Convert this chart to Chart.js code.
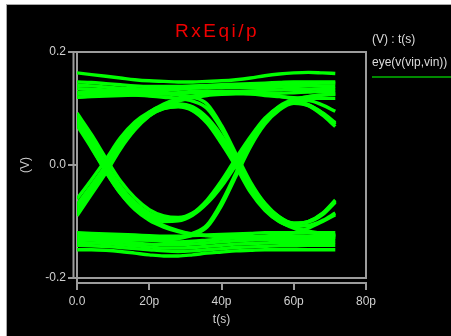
<!DOCTYPE html>
<html><head><meta charset="utf-8">
<script src="https://cdn.jsdelivr.net/npm/chart.js@4.4.1/dist/chart.umd.min.js"></script>
<style>
html,body{margin:0;padding:0;background:#fff;width:451px;height:336px;overflow:hidden;font-family:"Liberation Sans",Arial,sans-serif;}
#box{position:absolute;left:6px;top:4px;width:445px;height:332px;background:#000;border-top:1px solid #a8a8a8;border-left:1px solid #a8a8a8;box-sizing:border-box;}
#cv{position:absolute;left:0;top:0;}
#title{position:absolute;left:0;top:21px;width:434px;text-align:center;font-size:19px;line-height:19px;letter-spacing:2.5px;color:#ee0000;}
.leg{position:absolute;left:372px;font-size:12px;line-height:14px;color:#dcdcdc;white-space:nowrap;}
#legline{position:absolute;left:372px;top:76px;width:79px;height:2px;background:#008a00;}
</style></head>
<body>
<div id="box"><canvas id="cv" width="444" height="331"></canvas></div>
<div id="title"></div>
<div class="leg" id="leghead" style="top:32px"></div>
<div class="leg" id="legname" style="top:55px"></div>
<div id="legline"></div>
<script>
// ---- data ----
const chartTitle = 'RxEqi/p';
const legendHeader = '(V) : t(s)';
const seriesName = 'eye(v(vip,vin))';
const xTitle = 't(s)';
const yTitle = '(V)';
const xTickLabels = ['0.0', '20p', '40p', '60p', '80p'];
const yTickLabels = ['-0.2', '0.0', '0.2'];
// time samples in ps
const tPs = [0, 4, 8, 12, 16, 20, 24, 28, 32, 36, 40, 44, 48, 52, 56, 60, 64, 68, 71.5];
// eye traces (V)
const trU1 = [0.088, 0.046, 0.002, -0.037, -0.066, -0.085, -0.094, -0.095, -0.086, -0.064, -0.032, 0.006, 0.045, 0.078, 0.1, 0.11, 0.105, 0.088, 0.068];
const trU2 = [0.08, 0.036, -0.008, -0.046, -0.073, -0.09, -0.098, -0.097, -0.087, -0.066, -0.036, 0.003, 0.047, 0.08, 0.104, 0.116, 0.121, 0.124, 0.125];
const trU3 = [0.092, 0.054, 0.012, -0.028, -0.058, -0.079, -0.09, -0.093, -0.085, -0.062, -0.028, 0.012, 0.05, 0.083, 0.103, 0.112, 0.107, 0.092, 0.075];
const trU4 = [0.076, 0.032, -0.012, -0.05, -0.077, -0.093, -0.1, -0.099, -0.089, -0.068, -0.038, 0.0, 0.042, 0.076, 0.1, 0.113, 0.114, 0.106, 0.095];
const trN1 = [-0.07, -0.036, 0.0, 0.04, 0.07, 0.09, 0.102, 0.106, 0.1, 0.08, 0.046, 0.006, -0.04, -0.072, -0.094, -0.103, -0.1, -0.085, -0.062];
const trN2 = [-0.085, -0.048, -0.01, 0.032, 0.064, 0.087, 0.1, 0.104, 0.097, 0.076, 0.04, 0.0, -0.045, -0.078, -0.1, -0.11, -0.117, -0.121, -0.124];
const trN3 = [-0.06, -0.026, 0.01, 0.048, 0.076, 0.094, 0.105, 0.108, 0.103, 0.084, 0.052, 0.012, -0.035, -0.068, -0.092, -0.103, -0.101, -0.088, -0.066];
const trN4 = [-0.08, -0.044, -0.006, 0.034, 0.066, 0.088, 0.1, 0.103, 0.096, 0.074, 0.038, -0.003, -0.048, -0.08, -0.1, -0.108, -0.107, -0.098, -0.085];
const trF1 = [0.085, 0.042, -0.002, -0.042, -0.072, -0.093, -0.107, -0.116, -0.122, -0.125, -0.127, -0.128, -0.128, -0.127, -0.126, -0.126, -0.127, -0.128, -0.128];
const trF2 = [0.07, 0.03, -0.012, -0.05, -0.079, -0.098, -0.11, -0.118, -0.123, -0.125, -0.126, -0.127, -0.127, -0.126, -0.124, -0.12, -0.112, -0.1, -0.088];
const trR1 = [-0.075, -0.04, -0.003, 0.038, 0.07, 0.093, 0.108, 0.117, 0.122, 0.125, 0.127, 0.128, 0.128, 0.127, 0.127, 0.128, 0.129, 0.13, 0.13];
const trR2 = [-0.09, -0.052, -0.014, 0.028, 0.062, 0.087, 0.103, 0.113, 0.119, 0.123, 0.125, 0.126, 0.126, 0.125, 0.122, 0.116, 0.106, 0.09, 0.072];
const trHF1 = [0.128, 0.13, 0.131, 0.131, 0.13, 0.128, 0.126, 0.124, 0.12, 0.108, 0.07, 0.02, -0.03, -0.068, -0.092, -0.104, -0.1, -0.086, -0.064];
const trHF2 = [0.12, 0.122, 0.124, 0.125, 0.124, 0.122, 0.12, 0.118, 0.113, 0.1, 0.064, 0.016, -0.035, -0.074, -0.099, -0.112, -0.119, -0.123, -0.126];
const trLR1 = [-0.128, -0.13, -0.131, -0.132, -0.133, -0.133, -0.132, -0.13, -0.124, -0.11, -0.072, -0.02, 0.032, 0.072, 0.097, 0.109, 0.106, 0.092, 0.072];
const trLR2 = [-0.122, -0.123, -0.124, -0.126, -0.128, -0.13, -0.13, -0.128, -0.121, -0.106, -0.066, -0.014, 0.038, 0.077, 0.102, 0.115, 0.121, 0.124, 0.126];
const trH1 = [0.163, 0.16, 0.157, 0.154, 0.151, 0.149, 0.148, 0.147, 0.147, 0.148, 0.149, 0.151, 0.154, 0.158, 0.161, 0.163, 0.164, 0.163, 0.162];
const trH2 = [0.147, 0.146, 0.144, 0.142, 0.14, 0.139, 0.139, 0.139, 0.14, 0.141, 0.142, 0.143, 0.144, 0.145, 0.146, 0.147, 0.147, 0.147, 0.147];
const trH3 = [0.135, 0.134, 0.133, 0.132, 0.131, 0.131, 0.132, 0.134, 0.136, 0.137, 0.137, 0.137, 0.137, 0.137, 0.138, 0.139, 0.14, 0.14, 0.14];
const trH4 = [0.12, 0.121, 0.122, 0.123, 0.124, 0.125, 0.126, 0.128, 0.13, 0.131, 0.13, 0.128, 0.126, 0.123, 0.121, 0.119, 0.118, 0.118, 0.118];
const trH5 = [0.141, 0.14, 0.138, 0.136, 0.135, 0.134, 0.134, 0.135, 0.136, 0.138, 0.14, 0.141, 0.142, 0.142, 0.143, 0.144, 0.144, 0.145, 0.145];
const trH6 = [0.126, 0.127, 0.128, 0.128, 0.127, 0.126, 0.126, 0.127, 0.128, 0.129, 0.13, 0.13, 0.131, 0.132, 0.133, 0.134, 0.134, 0.135, 0.135];
const trL1 = [-0.12, -0.121, -0.122, -0.123, -0.124, -0.125, -0.126, -0.126, -0.125, -0.124, -0.123, -0.122, -0.121, -0.12, -0.12, -0.12, -0.12, -0.12, -0.12];
const trL2 = [-0.132, -0.133, -0.134, -0.136, -0.138, -0.14, -0.141, -0.141, -0.14, -0.138, -0.136, -0.134, -0.133, -0.132, -0.132, -0.132, -0.132, -0.132, -0.132];
const trL3 = [-0.15, -0.15, -0.151, -0.153, -0.156, -0.159, -0.161, -0.161, -0.159, -0.156, -0.154, -0.152, -0.151, -0.15, -0.15, -0.15, -0.15, -0.15, -0.15];
const trL4 = [-0.142, -0.143, -0.144, -0.146, -0.148, -0.15, -0.152, -0.153, -0.152, -0.15, -0.148, -0.146, -0.145, -0.144, -0.143, -0.143, -0.142, -0.142, -0.142];
const trL5 = [-0.137, -0.138, -0.139, -0.141, -0.143, -0.145, -0.147, -0.147, -0.146, -0.144, -0.142, -0.14, -0.139, -0.138, -0.137, -0.137, -0.137, -0.137, -0.137];
const trL6 = [-0.126, -0.127, -0.128, -0.13, -0.131, -0.133, -0.135, -0.136, -0.135, -0.133, -0.131, -0.129, -0.128, -0.127, -0.126, -0.126, -0.126, -0.126, -0.126];

const traces = [trH1, trH2, trH3, trH4, trH5, trH6, trL1, trL2, trL3, trL4, trL5, trL6,
                trU1, trU2, trU3, trU4, trN1, trN2, trN3, trN4,
                trF1, trF2, trR1, trR2, trHF1, trHF2, trLR1, trLR2];

// ---- text ----
document.getElementById('title').textContent = chartTitle;
document.getElementById('leghead').textContent = legendHeader;
document.getElementById('legname').textContent = seriesName;

const GREEN = '#00ff00';
const AXIS = '#9c9c9c';
const TXT = '#d0d0d0';

const datasets = traces.map((tr, i) => ({
  label: i === 0 ? seriesName : '',
  data: tPs.map((x, k) => ({x: x, y: tr[k]})),
  borderColor: GREEN,
  borderWidth: 3.4,
  pointRadius: 0,
  fill: false,
  cubicInterpolationMode: 'monotone'
}));

const framePlugin = {
  id: 'frame',
  afterDraw(chart) {
    const {ctx, chartArea: {left, top, right, bottom}} = chart;
    ctx.save();
    ctx.fillStyle = '#000';
    ctx.fillRect(left + 1, bottom + 1, right - left + 2, 3.5);
    ctx.strokeStyle = AXIS;
    ctx.lineWidth = 2;
    ctx.beginPath();
    ctx.moveTo(left, top); ctx.lineTo(right, top); ctx.lineTo(right, bottom); ctx.lineTo(left - 4, bottom);
    ctx.stroke();
    ctx.beginPath();
    ctx.moveTo(left, bottom + 5); ctx.lineTo(right + 1, bottom + 5);
    ctx.stroke();
    ctx.beginPath();
    ctx.moveTo(left - 3.5, top); ctx.lineTo(left - 3.5, bottom);
    ctx.stroke();
    ctx.restore();
  }
};

new Chart(document.getElementById('cv'), {
  type: 'line',
  data: {datasets},
  plugins: [framePlugin],
  options: {
    responsive: false,
    animation: false,
    devicePixelRatio: 1,
    layout: {padding: {top: 47, right: 85, left: 0, bottom: 0}},
    plugins: {legend: {display: false}, title: {display: false}, tooltip: {enabled: false}},
    scales: {
      x: {
        type: 'linear', min: 0, max: 80,
        afterFit(s) { s.height = 58; },
        ticks: {stepSize: 20, color: TXT, padding: 4, font: {family: 'Liberation Sans', size: 12},
                callback: (v) => xTickLabels[Math.round(v / 20)]},
        grid: {drawOnChartArea: false, color: AXIS, tickColor: AXIS, tickLength: 12, lineWidth: 2},
        border: {display: false},
        title: {display: true, text: xTitle, color: TXT, font: {family: 'Liberation Sans', size: 12}, padding: {top: 0, bottom: 9}}
      },
      y: {
        min: -0.2, max: 0.2,
        afterFit(s) { s.width = 70; },
        ticks: {stepSize: 0.2, color: TXT, padding: 2, font: {family: 'Liberation Sans', size: 12},
                callback: (v) => yTickLabels[Math.round((v + 0.2) / 0.2)]},
        grid: {drawOnChartArea: false, color: AXIS, tickColor: AXIS, tickLength: 9, lineWidth: 2},
        border: {display: true, color: AXIS, width: 2},
        title: {display: true, text: yTitle, color: TXT, font: {family: 'Liberation Sans', size: 12}, padding: {top: 11, bottom: 0}}
      }
    }
  }
});
</script>
</body></html>
